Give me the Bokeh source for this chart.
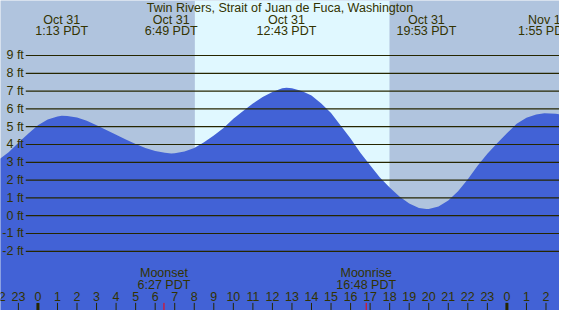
from bokeh.plotting import figure
from bokeh.models import Range1d
from bokeh.embed import file_html
from bokeh.resources import INLINE
from bokeh.core.properties import value

# ---------------- data ----------------
title = "Twin Rivers, Strait of Juan de Fuca, Washington"

# tide height (ft) vs. hours since Oct 31 00:00 PDT
tide_hours = [-2.0, -1.5, -1.0, -0.5, 0.0, 0.5, 1.0, 1.22, 1.5, 2.0, 2.5, 3.0, 3.5, 4.0,
              4.5, 5.0, 5.5, 6.0, 6.5, 6.82, 7.0, 7.5, 8.0, 8.5, 9.0, 9.5, 10.0, 10.5,
              11.0, 11.5, 12.0, 12.5, 12.72, 13.0, 13.5, 14.0, 14.5, 15.0, 15.5, 16.0,
              16.5, 17.0, 17.5, 18.0, 18.5, 19.0, 19.5, 19.88, 20.0, 20.5, 21.0, 21.5,
              22.0, 22.5, 23.0, 23.5, 24.0, 24.5, 25.0, 25.5, 25.92, 26.5, 26.8]
tide_feet = [3.15, 3.57, 4.10, 4.60, 5.08, 5.41, 5.57, 5.61, 5.60, 5.52, 5.34, 5.08, 4.82, 4.55,
             4.28, 4.03, 3.80, 3.64, 3.54, 3.50, 3.51, 3.60, 3.80, 4.12, 4.50, 4.93, 5.44, 5.88,
             6.30, 6.67, 6.95, 7.16, 7.19, 7.16, 7.01, 6.75, 6.30, 5.77, 5.05, 4.34,
             3.54, 2.83, 2.15, 1.58, 1.08, 0.69, 0.43, 0.37, 0.37, 0.52, 0.85, 1.38,
             2.05, 2.80, 3.48, 4.07, 4.63, 5.16, 5.50, 5.69, 5.75, 5.72, 5.68]

# high / low tide events
event_hours = [1.22, 6.82, 12.72, 19.88, 25.92]
event_dates = ["Oct 31", "Oct 31", "Oct 31", "Oct 31", "Nov 1"]
event_times = ["1:13 PDT", "6:49 PDT", "12:43 PDT", "19:53 PDT", "1:55 PDT"]

# daylight
sunrise = 8.03
sunset = 17.99

# moon events
moon_hours = [6.45, 16.8]
moon_names = ["Moonset", "Moonrise"]
moon_times = ["6:27 PDT", "16:48 PDT"]

# y grid (ft)
grid_feet = [-2, -1, 0, 1, 2, 3, 4, 5, 6, 7, 8, 9]
grid_labels = ["-2 ft", "-1 ft", "0 ft", "1 ft", "2 ft", "3 ft", "4 ft", "5 ft",
               "6 ft", "7 ft", "8 ft", "9 ft"]

# hour ticks along bottom
tick_hours = list(range(-2, 27))
tick_labels = [str(h % 24) for h in tick_hours]
midnight_hours = [0, 24]

# ---------------- layout helpers (reference pixel space -> data) ----------------
X0_PX, PX_PER_HR = 38.5, 20.1
Y0_PX, PX_PER_FT = 226.3, 18.72


def hx(px):
    return (px - X0_PX) / PX_PER_HR


def fy(py):
    return (Y0_PX - py) / PX_PER_FT


x_min, x_max = hx(0), hx(575)
y_min, y_max = fy(326), fy(0)

NIGHT = "#B0C4DE"
DAY = "#E0F8FF"
WATER = "#4262D6"
INK = "#333300"
LINE = "#262600"
FONT = value("Liberation Sans")
FS = "12.5px"

p = figure(width=559, height=310, output_backend="svg", toolbar_location=None,
           x_range=Range1d(x_min, x_max), y_range=Range1d(y_min, y_max),
           min_border=0, background_fill_color=NIGHT, border_fill_color=NIGHT)
p.axis.visible = False
p.grid.visible = False
p.outline_line_color = None

# daylight band
p.quad(left=[sunrise], right=[sunset], bottom=[y_min], top=[y_max],
       fill_color=DAY, line_color=None)

# tide
p.varea(x=tide_hours, y1=[y_min] * len(tide_hours), y2=tide_feet, fill_color=WATER)

# grid lines
line_start = hx(26)
p.segment(x0=[line_start] * len(grid_feet), x1=[x_max] * len(grid_feet),
          y0=grid_feet, y1=grid_feet, line_color=LINE, line_width=1.2)
p.text(x=[hx(24)] * len(grid_feet), y=grid_feet, text=grid_labels,
       text_align="right", text_baseline="middle", text_font=FONT,
       text_font_size=FS, text_color=INK)

# title
p.text(x=[hx(287.5)], y=[fy(7.5)], text=[title], text_align="center",
       text_baseline="middle", text_font=FONT, text_font_size=FS, text_color=INK)

# tide event labels
p.text(x=event_hours, y=[fy(20)] * len(event_hours), text=event_dates,
       text_align="center", text_baseline="middle", text_font=FONT,
       text_font_size=FS, text_color=INK)
p.text(x=event_hours, y=[fy(32)] * len(event_hours), text=event_times,
       text_align="center", text_baseline="middle", text_font=FONT,
       text_font_size=FS, text_color=INK)

# hour ticks
tick_top, tick_bot = fy(318), fy(326)
p.segment(x0=tick_hours, x1=tick_hours, y0=[tick_top] * len(tick_hours),
          y1=[tick_bot] * len(tick_hours), line_color=LINE, line_width=1)
p.segment(x0=midnight_hours, x1=midnight_hours, y0=[tick_top] * 2,
          y1=[tick_bot] * 2, line_color=LINE, line_width=3)
p.text(x=tick_hours, y=[fy(311.5)] * len(tick_hours), text=tick_labels,
       text_align="center", text_baseline="middle", text_font=FONT,
       text_font_size=FS, text_color=INK)

# moon events
p.segment(x0=moon_hours, x1=moon_hours, y0=[tick_top] * 2, y1=[tick_bot] * 2,
          line_color="#FF0000", line_width=1)
p.text(x=moon_hours, y=[fy(287)] * 2, text=moon_names, text_align="center",
       text_baseline="middle", text_font=FONT, text_font_size=FS, text_color=INK)
p.text(x=moon_hours, y=[fy(299)] * 2, text=moon_times, text_align="center",
       text_baseline="middle", text_font=FONT, text_font_size=FS, text_color=INK)

open("out.html", "w").write(file_html(p, INLINE))
